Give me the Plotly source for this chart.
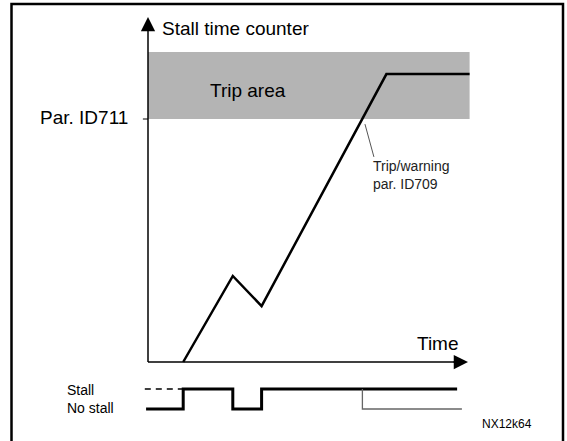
import plotly.graph_objects as go

# --- stall time counter trace (time units, counter in % of trip limit) ---
time_pts = [1.1, 2.65, 3.55, 7.45, 10.05]
counter_pts = [0, 35.4, 23.0, 118.5, 118.5]

trip_limit = 100          # Par. ID711
trip_area_top = 127.6
time_axis_end = 10.0
counter_axis_end = 142

# --- stall / no stall signal (1 = stall, 0 = no stall) ---
stall_time = [-0.06, 1.1, 1.1, 2.65, 2.65, 3.55, 3.55, 9.66]
stall_state = [0, 0, 1, 1, 0, 0, 1, 1]
stall_dash_time = [-0.1, 1.1]
stall_dash_state = [1, 1]

# trip/warning output drops when the counter passes the limit
warn_time = [6.7, 6.7, 9.81]
warn_state = [1, 0, 0]

FONT = "Arial, Liberation Sans, sans-serif"
W, H = 567, 441

fig = go.Figure()

# counter curve
fig.add_trace(go.Scatter(x=time_pts, y=counter_pts, mode="lines",
                         line=dict(color="black", width=2.5),
                         hoverinfo="skip", showlegend=False))

# stall signal (second y axis)
fig.add_trace(go.Scatter(x=stall_time, y=stall_state, yaxis="y2", mode="lines",
                         line=dict(color="black", width=3, shape="linear"),
                         hoverinfo="skip", showlegend=False))
fig.add_trace(go.Scatter(x=stall_dash_time, y=stall_dash_state, yaxis="y2", mode="lines",
                         line=dict(color="black", width=1.3, dash="6px,5px"),
                         hoverinfo="skip", showlegend=False))
fig.add_trace(go.Scatter(x=warn_time, y=warn_state, yaxis="y2", mode="lines",
                         line=dict(color="#666666", width=1.3),
                         hoverinfo="skip", showlegend=False))

shapes = [
    # trip area band
    dict(type="rect", xref="x", yref="y", x0=0, x1=time_pts[-1],
         y0=trip_limit, y1=trip_area_top, fillcolor="#b4b4b4",
         line=dict(width=0), layer="below"),
    # axes
    dict(type="line", xref="x", yref="y", x0=0, x1=0, y0=0, y1=counter_axis_end - 4,
         line=dict(color="black", width=1.5)),
    dict(type="line", xref="x", yref="y", x0=0, x1=time_axis_end - 0.3, y0=0, y1=0,
         line=dict(color="black", width=1.5)),
    # tick at the trip limit
    dict(type="line", xref="x", yref="y", x0=-0.16, x1=0, y0=trip_limit, y1=trip_limit,
         line=dict(color="black", width=1)),
    # leader for the trip/warning label
    dict(type="line", xref="x", yref="y", x0=6.78, x1=7.06, y0=97.9, y1=84.4,
         line=dict(color="#555555", width=1)),
    # frame
    dict(type="rect", xref="paper", yref="paper", x0=11.5 / W, x1=563 / W,
         y0=-0.1, y1=1 - 4 / H, line=dict(color="black", width=2.5),
         fillcolor="rgba(0,0,0,0)"),
]

annotations = [
    # axis arrow heads
    dict(x=0, y=counter_axis_end, ax=0, ay=counter_axis_end - 6, xref="x", yref="y",
         axref="x", ayref="y", showarrow=True, arrowhead=2, arrowwidth=1.5,
         arrowsize=1.9, arrowcolor="black", text=""),
    dict(x=time_axis_end, y=0, ax=time_axis_end - 0.5, ay=0, xref="x", yref="y",
         axref="x", ayref="y", showarrow=True, arrowhead=2, arrowwidth=1.5,
         arrowsize=1.9, arrowcolor="black", text=""),
    dict(x=0.375, y=137.4, xref="x", yref="y", text="Stall time counter",
         showarrow=False, xanchor="left", yanchor="middle",
         font=dict(family=FONT, size=19, color="black")),
    dict(x=3.125, y=111.9, xref="x", yref="y", text="Trip area",
         showarrow=False, xanchor="center", yanchor="middle",
         font=dict(family=FONT, size=19, color="black")),
    dict(x=-0.5625, y=100.8, xref="x", yref="y", text="Par. ID711",
         showarrow=False, xanchor="right", yanchor="middle",
         font=dict(family=FONT, size=19, color="black")),
    dict(x=9.06, y=7.8, xref="x", yref="y", text="Time",
         showarrow=False, xanchor="center", yanchor="middle",
         font=dict(family=FONT, size=19, color="black")),
    dict(x=6.97, y=77.0, xref="x", yref="y", text="Trip/warning<br>par. ID709",
         showarrow=False, xanchor="left", yanchor="middle", align="left",
         font=dict(family=FONT, size=14, color="#222222")),
    dict(x=-2.6, y=0.5, xref="x", yref="y2", text="Stall<br>No stall",
         showarrow=False, xanchor="left", yanchor="middle", align="left",
         font=dict(family=FONT, size=14, color="black")),
    dict(x=11.23, y=-0.75, xref="x", yref="y2", text="NX12k64",
         showarrow=False, xanchor="center", yanchor="middle",
         font=dict(family=FONT, size=12, color="black")),
]

px_per_t = 32.0
x0_px = 148.0
px_per_c = 2.43
y0_px = 362.0

fig.update_layout(
    width=W, height=H,
    margin=dict(l=0, r=0, t=0, b=0, pad=0),
    paper_bgcolor="white", plot_bgcolor="white",
    xaxis=dict(range=[-x0_px / px_per_t, (W - x0_px) / px_per_t],
               visible=False, fixedrange=True),
    yaxis=dict(range=[(y0_px - H) / px_per_c, y0_px / px_per_c],
               domain=[0, 1], visible=False, fixedrange=True),
    yaxis2=dict(range=[-1, 2], domain=[12 / H, 72 / H], anchor="x",
                visible=False, fixedrange=True),
    shapes=shapes,
    annotations=annotations,
    showlegend=False,
)

fig.write_html("out.html")
